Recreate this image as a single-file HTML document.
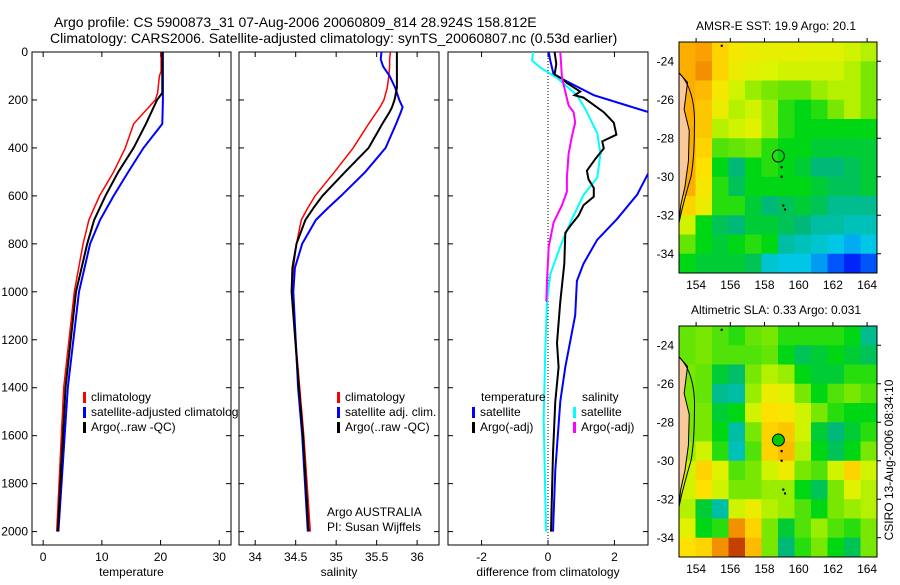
<!DOCTYPE html>
<html><head><meta charset="utf-8"><style>
html,body{margin:0;padding:0;background:#fff;}
svg text{font-family:"Liberation Sans",sans-serif;fill:#000;}
</style></head><body>
<svg id="fig" width="900" height="580" viewBox="0 0 900 580" xmlns="http://www.w3.org/2000/svg">
<text x="54" y="27" font-size="14">Argo profile: CS 5900873_31 07-Aug-2006 20060809_814 28.924S 158.812E</text>
<text x="50" y="43" font-size="14">Climatology: CARS2006. Satellite-adjusted climatology: synTS_20060807.nc (0.53d earlier)</text>
<g id="g"></g>
</svg>
<script>
// ---------- data ----------
const depthTicks=[0,200,400,600,800,1000,1200,1400,1600,1800,2000];
const tempTicks=[0,10,20,30];
const salTicks=[34,34.5,35,35.5,36];
const salTickLabels=["34","34.5","35","35.5","36"];
const diffTicks=[-2,0,2];

const tDepth=[0,80,100,170,200,300,400,500,600,700,800,1000,1400,2000];
const tClim=[20.1,20.1,19.8,19.5,19.1,15.4,14.0,12.0,9.6,7.8,6.8,5.3,3.5,2.3];
const tArgo=[20.3,20.3,20.3,20.3,19.4,17.5,15.4,12.8,10.6,8.7,7.5,5.6,3.8,2.5];
const tSat=[20.4,20.4,20.4,20.4,20.4,20.3,17.1,14.5,12.0,9.7,8.0,6.1,4.2,2.6];

const sDepth=[0,30,60,100,150,200,230,250,300,400,500,600,650,700,800,900,1000,1400,1600,2000];
const sClim=[35.67,35.66,35.66,35.65,35.63,35.59,35.54,35.5,35.40,35.21,34.98,34.74,34.65,34.57,34.51,34.47,34.45,34.55,34.60,34.68];
const sArgo=[35.75,35.75,35.75,35.75,35.75,35.72,35.69,35.66,35.57,35.40,35.11,34.83,34.72,34.62,34.51,34.46,34.45,34.54,34.59,34.66];
const sSat=[35.56,35.55,35.58,35.66,35.73,35.78,35.82,35.80,35.74,35.61,35.36,35.06,34.90,34.75,34.58,34.49,34.47,34.53,34.58,34.65];

const dTempArgoDepth=[0,50,94,111,129,165,180,190,251,295,345,373,402,445,495,531,567,603,639,682,725,754,883,1041,1213,1314,1457,1673,2000];
const dTempArgo=[0.2,0.25,0.2,0.42,0.57,0.97,0.8,1.07,1.68,1.98,2.06,1.63,1.68,1.43,1.17,1.22,1.38,1.38,1.07,0.92,0.67,0.52,0.49,0.37,0.27,0.32,0.22,0.15,0.09];
const dTempSatDepth=[0,36,94,137,180,223,251,300,400,460,510,596,696,783,883,955,1098,1170,1314,1457,1744,2000];
const dTempSat=[0.02,0.07,0.17,0.77,1.38,2.38,3.03,3.5,3.6,3.3,3.0,2.68,2.08,1.48,1.07,0.87,0.82,0.72,0.52,0.37,0.22,0.15];
const dSalSatDepth=[0,36,65,108,180,237,338,424,524,596,711,811,926,1041,1242,1529,2000];
const dSalSat=[-0.45,-0.48,-0.23,0.27,0.87,1.12,1.48,1.58,1.48,1.07,0.67,0.37,0.07,-0.03,-0.08,-0.13,-0.06];
const dSalArgoDepth=[0,108,165,223,251,295,352,424,524,582,639,711,811,955,1041];
const dSalArgo=[0.37,0.42,0.52,0.62,0.77,0.82,0.72,0.62,0.57,0.57,0.42,0.17,0.02,-0.03,-0.05];

const lonTicks=[154,156,158,160,162,164];
const latTicks=[24,26,28,30,32,34];
const sstGrid=[
[0.78,0.8,0.72,0.68,0.66,0.65,0.65,0.65,0.64,0.64,0.62,0.6],
[0.78,0.82,0.72,0.66,0.64,0.63,0.62,0.62,0.62,0.62,0.6,0.56],
[0.78,0.76,0.68,0.62,0.58,0.56,0.55,0.55,0.58,0.6,0.6,0.56],
[0.78,0.74,0.66,0.6,0.62,0.58,0.52,0.5,0.52,0.56,0.6,0.56],
[0.78,0.74,0.6,0.62,0.64,0.58,0.52,0.5,0.5,0.5,0.5,0.5],
[0.78,0.72,0.54,0.55,0.56,0.52,0.5,0.5,0.48,0.48,0.48,0.48],
[0.78,0.7,0.5,0.44,0.5,0.52,0.5,0.48,0.44,0.44,0.46,0.48],
[0.78,0.68,0.52,0.46,0.5,0.5,0.5,0.5,0.48,0.46,0.46,0.48],
[0.72,0.66,0.52,0.52,0.48,0.44,0.46,0.48,0.46,0.42,0.42,0.42],
[0.62,0.5,0.46,0.44,0.48,0.48,0.46,0.44,0.4,0.4,0.38,0.38],
[0.55,0.5,0.48,0.5,0.52,0.5,0.4,0.38,0.36,0.34,0.3,0.34],
[0.5,0.48,0.48,0.48,0.46,0.36,0.34,0.34,0.28,0.2,0.14,0.2]];
const slaGrid=[
[0.55,0.56,0.54,0.52,0.55,0.56,0.52,0.52,0.52,0.52,0.5,0.42],
[0.55,0.56,0.54,0.54,0.54,0.55,0.5,0.46,0.48,0.5,0.48,0.46],
[0.56,0.55,0.48,0.45,0.56,0.6,0.58,0.5,0.48,0.48,0.52,0.52],
[0.56,0.55,0.42,0.4,0.58,0.66,0.64,0.56,0.5,0.54,0.56,0.54],
[0.56,0.56,0.48,0.5,0.62,0.7,0.68,0.62,0.56,0.52,0.5,0.5],
[0.56,0.56,0.5,0.4,0.56,0.72,0.74,0.62,0.48,0.44,0.48,0.52],
[0.58,0.62,0.52,0.38,0.54,0.72,0.76,0.6,0.5,0.46,0.5,0.56],
[0.62,0.72,0.64,0.54,0.56,0.62,0.66,0.56,0.54,0.62,0.72,0.62],
[0.62,0.7,0.62,0.56,0.56,0.58,0.58,0.5,0.46,0.56,0.64,0.6],
[0.6,0.48,0.4,0.62,0.66,0.6,0.58,0.54,0.5,0.56,0.58,0.6],
[0.64,0.5,0.52,0.82,0.72,0.56,0.48,0.54,0.58,0.54,0.52,0.56],
[0.7,0.72,0.82,0.92,0.76,0.56,0.44,0.52,0.56,0.5,0.46,0.56]];
const floatLon=158.812, floatLat=28.924;

// ---------- drawing ----------
const NS="http://www.w3.org/2000/svg";
const G=document.getElementById('g');
function mk(tag,attrs,parent){const e=document.createElementNS(NS,tag);for(const k in attrs)e.setAttribute(k,attrs[k]);(parent||G).appendChild(e);return e;}
function txt(x,y,s,size,anchor,parent){const e=mk('text',{x:x,y:y,'font-size':size,'text-anchor':anchor||'start'},parent);e.textContent=s;return e;}

const TOP=52,BOT=545;
const yD=d=>TOP+d*0.2398;

function panel(name,L,R,xmin,xmax,ticks,labels,xlabel,showY){
  const xs=v=>L+(v-xmin)/(xmax-xmin)*(R-L);
  const g=mk('g',{});
  
  
  const frame=mk('rect',{x:L,y:TOP,width:R-L,height:BOT-TOP,fill:'#fff',stroke:'#000','stroke-width':1},g);
  
  
  depthTicks.forEach(d=>{
    mk('line',{x1:L,x2:L+5,y1:yD(d),y2:yD(d),stroke:'#000'},g);
    mk('line',{x1:R-5,x2:R,y1:yD(d),y2:yD(d),stroke:'#000'},g);
    if(showY){const t=txt(L-4,yD(d)+4,String(d),12,'end',g);
      
      }
  });
  ticks.forEach((v,i)=>{
    const x=xs(v);
    mk('line',{x1:x,x2:x,y1:BOT,y2:BOT-5,stroke:'#000'},g);
    mk('line',{x1:x,x2:x,y1:TOP,y2:TOP+5,stroke:'#000'},g);
    const t=txt(x,BOT+16,labels[i],12,'middle',g);
    
    
  });
  const xl=txt((L+R)/2,BOT+31,xlabel,12,'middle',g);
  
  
  const clip=mk('clipPath',{id:'clip-'+name},g);
  mk('rect',{x:L,y:TOP,width:R-L,height:BOT-TOP},clip);
  return {g,xs,clipId:'clip-'+name};
}
function line(p,depths,vals,color,w,nm){
  const pts=depths.map((d,i)=>p.xs(vals[i]).toFixed(1)+','+yD(d).toFixed(1)).join(' ');
  const e=mk('polyline',{points:pts,fill:'none',stroke:color,'stroke-width':w,'clip-path':'url(#'+p.clipId+')'},p.g);
  
  
}
function legend(g,x,y,color,label,nm){
  const b=mk('rect',{x:x,y:y-9,width:3,height:11,fill:color},g);
  
  
  const t=txt(x+8,y,label,12,'start',g);
  
  
}

const p1=panel('temperature-panel',32,231,-1.9,32,tempTicks,tempTicks.map(String),'temperature',true);
line(p1,tDepth,tClim,'#f00',1.5,'temperature-climatology-line');
line(p1,tDepth,tSat,'#00f',2,'temperature-satellite-line');
line(p1,tDepth,tArgo,'#000',2,'temperature-argo-line');
legend(p1.g,83,401,'#f00','climatology','legend-entry-climatology');
legend(p1.g,83,416,'#00f','satellite-adjusted climatology','legend-entry-satellite');
legend(p1.g,83,431,'#000','Argo(..raw -QC)','legend-entry-argo');

const p2=panel('salinity-panel',239,439,33.8,36.27,salTicks,salTickLabels,'salinity',false);
line(p2,sDepth,sClim,'#f00',1.5,'salinity-climatology-line');
line(p2,sDepth,sSat,'#00f',2,'salinity-satellite-line');
line(p2,sDepth,sArgo,'#000',2,'salinity-argo-line');
legend(p2.g,337,401,'#f00','climatology','legend-entry-climatology-2');
legend(p2.g,337,416,'#00f','satellite adj. clim.','legend-entry-satellite-2');
legend(p2.g,337,431,'#000','Argo(..raw -QC)','legend-entry-argo-2');
const a1=txt(327,516,'Argo AUSTRALIA',12,'start',p2.g);

const a2=txt(327,531,'PI: Susan Wijffels',12,'start',p2.g);


const p3=panel('difference-panel',448,648,-3.01,3.01,diffTicks,diffTicks.map(String),'difference from climatology',false);
const zl=mk('line',{x1:p3.xs(0),x2:p3.xs(0),y1:TOP,y2:BOT,stroke:'#000','stroke-dasharray':'1,2','stroke-width':1},p3.g);

line(p3,dTempSatDepth,dTempSat,'#00f',2,'temperature-satellite-diff-line');
line(p3,dSalSatDepth,dSalSat,'#0ff',2,'salinity-satellite-diff-line');
line(p3,dTempArgoDepth,dTempArgo,'#000',2,'temperature-argo-diff-line');
line(p3,dSalArgoDepth,dSalArgo,'#f0f',2,'salinity-argo-diff-line');
const lt=txt(481,401,'temperature',12,'start',p3.g);

legend(p3.g,472,416,'#00f','satellite','legend-entry-temp-satellite');
legend(p3.g,472,431,'#000','Argo(-adj)','legend-entry-temp-argo');
const ls=txt(582,401,'salinity',12,'start',p3.g);

legend(p3.g,573,416,'#0ff','satellite','legend-entry-sal-satellite');
legend(p3.g,573,431,'#f0f','Argo(-adj)','legend-entry-sal-argo');

// ---------- maps ----------
function jet(v){
  const stops=[[0,[0,0,140]],[0.15,[0,40,255]],[0.33,[0,200,240]],[0.44,[0,185,120]],[0.5,[0,215,20]],[0.57,[140,235,0]],[0.63,[220,245,0]],[0.7,[255,225,0]],[0.8,[250,160,0]],[0.9,[210,80,0]],[1,[140,0,0]]];
  for(let i=1;i<stops.length;i++){if(v<=stops[i][0]){const a=stops[i-1],b=stops[i],t=(v-a[0])/(b[0]-a[0]);
    return 'rgb('+a[1].map((c,k)=>Math.round(c+(b[1][k]-c)*t)).join(',')+')';}}
  return 'rgb(140,0,0)';
}
function map(name,top,grid,title,filled){
  const L=679,R=877,B=top+231;
  const xL=lon=>L+(lon-153)*17.1, yL=lat=>top+(lat-23)*19.25;
  const g=mk('g',{});
  
  
  const t=txt(776,top-12,title,12,'middle',g);
  
  const cw=(R-L)/grid[0].length, ch=(B-top)/grid.length;
  grid.forEach((row,r)=>row.forEach((v,c)=>{
    const cell=mk('rect',{x:(L+c*cw).toFixed(2),y:(top+r*ch).toFixed(2),width:(cw+0.5).toFixed(2),height:(ch+0.5).toFixed(2),fill:jet(v)},g);
    
    
  }));
  const land=mk('path',{d:`M${xL(153)},${yL(24.6)} L${xL(153.5)},${yL(25.1)} L${xL(153.3)},${yL(26.5)} L${xL(153.6)},${yL(27.6)} L${xL(153.55)},${yL(29.2)} L${xL(153.35)},${yL(30.5)} L${xL(153.1)},${yL(31.5)} L${xL(153)},${yL(32.3)} Z`,fill:'#f9c99b',stroke:'#000','stroke-width':1},g);
  
  const shelf=mk('path',{d:`M${xL(153)},${yL(24.6)} Q${xL(154)},${yL(25.5)} ${xL(153.9)},${yL(27.5)} Q${xL(153.9)},${yL(29)} ${xL(153.7)},${yL(30)} Q${xL(153.2)},${yL(31.5)} ${xL(153)},${yL(32.4)}`,fill:'none',stroke:'#000','stroke-width':1},g);
  
  const fr=mk('rect',{x:L,y:top,width:R-L,height:B-top,fill:'none',stroke:'#000'},g);
  
  lonTicks.forEach(lon=>{const x=xL(lon);mk('line',{x1:x,x2:x,y1:top,y2:top-4,stroke:'#000'},g);
    const tt=txt(x,B+16,String(lon),12,'middle',g);});
  latTicks.forEach(lat=>{const y=yL(lat);mk('line',{x1:R,x2:R+4,y1:y,y2:y,stroke:'#000'},g);
    const tt=txt(L-5,y+4,'-'+lat,12,'end',g);});
  [[155.5,23.2],[159,29.5],[159,30],[159.1,31.5],[159.2,31.7]].forEach(p=>mk('circle',{cx:xL(p[0]),cy:yL(p[1]),r:1.2,fill:'#000'},g));
  const m=mk('circle',{cx:xL(floatLon),cy:yL(floatLat),r:6,fill:filled?'#00cc00':'none',stroke:'#000','stroke-width':1},g);
  
}
map('sst-map',42,sstGrid,'AMSR-E SST: 19.9 Argo: 20.1',false);
map('sla-map',326,slaGrid,'Altimetric SLA: 0.33 Argo: 0.031',true);
const cs=txt(0,0,'CSIRO 13-Aug-2006 08:34:10',12,'middle');
cs.setAttribute('transform','translate(893,460) rotate(-90)');


</script>
</body></html>
